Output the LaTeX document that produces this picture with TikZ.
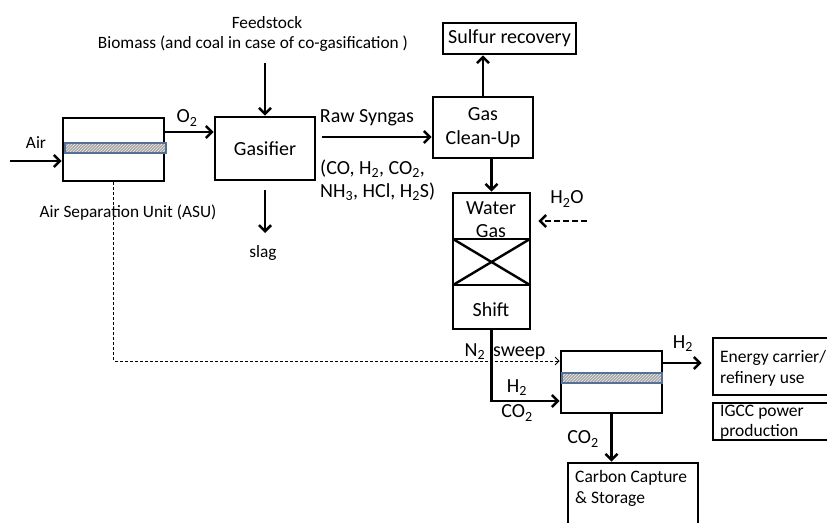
\documentclass[tikz,border=0pt]{standalone}
\usepackage{fontspec}
\setmainfont{Carlito}
\usetikzlibrary{arrows.meta,patterns}
\definecolor{memblue}{RGB}{84,112,150}
\newcommand\bigfs{\fontsize{20}{24}\selectfont}
\newcommand\smfs{\fontsize{17.3}{20}\selectfont}
\newcommand\mdfs{\fontsize{17.5}{21}\selectfont}
\begin{document}
\begin{tikzpicture}[x=1pt,y=-1pt,
  unitbox/.style={draw, line width=2.6pt, inner sep=0pt},
  flow/.style={line width=2.6pt, -{Straight Barb[length=6pt,width=12pt]}},
  thinflow/.style={line width=0.9pt, dash pattern=on 3pt off 2pt, -{Straight Barb[length=4pt,width=8pt]}},
  h2oflow/.style={line width=2.6pt, dash pattern=on 6pt off 3pt, -{Straight Barb[length=6pt,width=12pt]}},
  lbl/.style={inner sep=0pt, font=\bigfs},
  slbl/.style={inner sep=0pt, font=\smfs},
  mlbl/.style={inner sep=0pt, font=\mdfs, anchor=west},
  membrane/.style={pattern=north east lines, pattern color=gray!15},
]
\useasboundingbox (0,0) rectangle (827,522);
\clip (0,0) rectangle (827,522);

% ---------- boxes ----------
\node[unitbox, minimum width=101pt, minimum height=63pt] (ASU) at (113.5,149.5) {};
\node[unitbox, minimum width=100pt, minimum height=63pt, font=\bigfs] (Gas) at (265,148.5) {Gasifier};
\node[unitbox, minimum width=100pt, minimum height=61pt, font=\bigfs, align=center] (GCU) at (483,127.5) {Gas\\Clean-Up};
\node[unitbox, minimum width=133pt, minimum height=31pt, font=\bigfs] (Sul) at (509.5,38.5) {Sulfur recovery};
\node[unitbox, minimum width=77pt, minimum height=136pt] (WGS) at (491.5,261) {};
\node[unitbox, minimum width=101pt, minimum height=62pt] (Mem) at (611.5,382) {};
\node[unitbox, minimum width=140pt, minimum height=57pt] (En) at (783,366.5) {};
\node[unitbox, minimum width=140pt, minimum height=37pt] (IG) at (783,421.5) {};
\node[unitbox, minimum width=130pt, minimum height=80pt] (CCS) at (633,503) {};

% membranes
\fill[gray!70] (65,143) rectangle (166,153);
\fill[membrane] (65,143) rectangle (166,153);
\draw[memblue, line width=1.1pt] (65,143) rectangle (166,153);
\fill[gray!70] (562,373) rectangle (662,383);
\fill[membrane] (562,373) rectangle (662,383);
\draw[memblue, line width=1.1pt] (562,373) rectangle (662,383);

% WGS internals
\draw[line width=2.8pt] (453,239) -- (530,239) (453,285) -- (530,285);
\draw[line width=2.4pt] (453,239) -- (530,285) (453,285) -- (530,239);
\node[lbl] (wgs1) at (491,208) {Water};
\node[lbl] (wgs2) at (491,231) {Gas};
\node[lbl] (wgs3) at (491,310) {Shift};

% ---------- texts ----------
\node[slbl] (feed1) at (267,23) {Feedstock};
\node[slbl] (feed2) at (253,44) {Biomass (and coal in case of co-gasification )};
\node[slbl] (airl) at (36,143) {Air};
\node[lbl] (o2l) at (187,118) {O\textsubscript{2}};
\node[slbl] (asul) at (128,213) {Air Separation Unit (ASU)};
\node[slbl] (slag) at (263,253) {slag};
\node[lbl] (rawl) at (367,118) {Raw Syngas};
\node[lbl, anchor=west] (comp1) at (320,169) {(CO, H\textsubscript{2}, CO\textsubscript{2},};
\node[lbl, anchor=west] (comp2) at (320,192) {NH\textsubscript{3}, HCl, H\textsubscript{2}S)};
\node[lbl] (h2ol) at (567,199) {H\textsubscript{2}O};
\node[lbl] (n2l) at (505,352) {N\textsubscript{2} \,sweep};
\node[lbl] (h2a) at (517,388) {H\textsubscript{2}};
\node[lbl] (co2a) at (517,413) {CO\textsubscript{2}};
\node[lbl] (h2b) at (683,344) {H\textsubscript{2}};
\node[lbl] (co2b) at (583,439) {CO\textsubscript{2}};
\node[mlbl] (en1) at (720,358) {Energy carrier/};
\node[mlbl] (en2) at (720,379) {refinery use};
\node[mlbl] (ig1) at (720,412) {IGCC power};
\node[mlbl] (ig2) at (720,432) {production};
\node[mlbl] (cc1) at (575,478) {Carbon Capture};
\node[mlbl] (cc2) at (575,499) {\& Storage};

% ---------- connectors ----------
\coordinate (airin) at (10,161);
\draw[flow] (airin) -- (airin -| ASU.west);
\coordinate (o2y) at (0,132);
\draw[flow] (ASU.east |- o2y) -- (Gas.west |- o2y);
\coordinate (feedtop) at (265,63);
\draw[flow] (feedtop) -- (Gas.north);
\coordinate (slagtop) at (265,190);
\draw[flow] (slagtop) -- (265,233);
\coordinate (rs) at (322,137);
\draw[flow] (rs) -- (rs -| GCU.west);
\draw[flow] (GCU.north) -- (GCU.north |- Sul.south);
\draw[flow] (WGS.north |- GCU.south) -- (WGS.north);
\coordinate (h2os) at (587,221);
\draw[h2oflow, shorten >=7pt] (h2os) -- (h2os -| WGS.east);
\coordinate (wy) at (0,401);
\draw[flow] (WGS.south) -- (WGS.south |- wy) -- (Mem.west |- wy);
\coordinate (dy) at (0,361);
\draw[thinflow] (ASU.south) -- (ASU.south |- dy) -- (Mem.west |- dy);
\coordinate (h2y) at (0,363);
\draw[flow, shorten >=10pt] (Mem.east |- h2y) -- (En.west |- h2y);
\draw[flow] (Mem.south) -- (Mem.south |- CCS.north);
\end{tikzpicture}
\end{document}
